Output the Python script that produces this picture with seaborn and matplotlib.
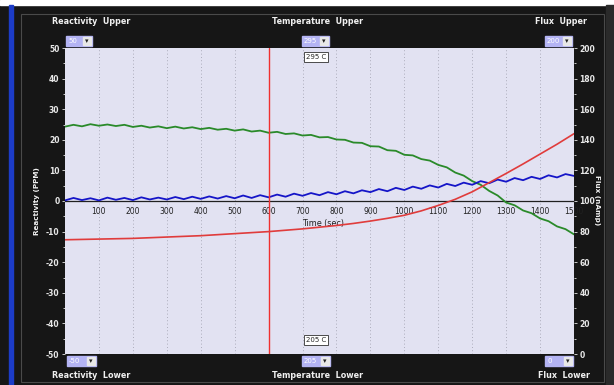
"""
Reactor panel chart: reactivity, flux and temperature traces vs time.
"""

import numpy as np
import pandas as pd
import seaborn as sns
import matplotlib.pyplot as plt
from matplotlib.patches import Rectangle

# data
t_fine = list(range(0, 1501, 25))
reactivity = [24.3, 24.9, 24.4, 25.1, 24.6, 25.0, 24.5, 24.9, 24.2, 24.6,
              24.0, 24.4, 23.8, 24.3, 23.7, 24.1, 23.5, 23.9, 23.3, 23.6,
              23.0, 23.4, 22.7, 23.0, 22.3, 22.6, 21.9, 22.1, 21.4, 21.6,
              20.8, 20.9, 20.1, 20.0, 19.1, 19.0, 17.9, 17.8, 16.6, 16.4,
              15.1, 14.9, 13.7, 13.2, 11.8, 11.0, 9.3, 8.3, 6.5, 5.3,
              3.3, 1.8, -0.5, -1.4, -3.1, -4.0, -5.7, -6.6, -8.3, -9.2, -10.9]
reactivity2 = [0.2, 1.0, 0.3, 0.9, 0.2, 1.1, 0.4, 1.0, 0.3, 1.2,
               0.5, 1.1, 0.5, 1.3, 0.6, 1.4, 0.7, 1.5, 0.8, 1.6,
               0.9, 1.8, 1.0, 1.9, 1.2, 2.1, 1.4, 2.4, 1.7, 2.6,
               1.9, 2.9, 2.2, 3.2, 2.5, 3.5, 2.9, 3.9, 3.2, 4.3,
               3.6, 4.7, 4.0, 5.1, 4.4, 5.6, 4.9, 6.0, 5.3, 6.5,
               5.8, 7.0, 6.3, 7.5, 6.8, 7.9, 7.2, 8.4, 7.7, 8.8, 8.2]
t_coarse = list(range(0, 1501, 50))
temperature = [238.6, 238.7, 238.8, 238.9, 239.0, 239.2, 239.4, 239.6,
               239.8, 240.1, 240.4, 240.7, 241.0, 241.4, 241.8, 242.3,
               242.8, 243.4, 244.1, 244.9, 245.8, 247.1, 248.7, 250.5,
               252.7, 255.4, 258.1, 260.9, 263.8, 266.7, 269.8]
cursor_time = 600
time_ticks = list(range(100, 1501, 100))
react_ticks = list(range(-50, 51, 10))
flux_ticks = list(range(0, 201, 20))
temp_upper, temp_lower = 295, 205

W, H = 614, 385
BG = '#161616'

sns.set_style('white')
plt.rcParams['font.family'] = ['DejaVu Sans']
plt.rcParams['axes.unicode_minus'] = False

fig = plt.figure(figsize=(W / 100, H / 100), dpi=100, facecolor=BG)


def fx(x):
    return x / W


def fy(y):
    return 1 - y / H


# frame decorations
fig.patches.append(Rectangle((0, fy(5)), 1, 5 / H, transform=fig.transFigure,
                             color='white', zorder=0))
fig.patches.append(Rectangle((fx(9), 0), 4 / W, fy(5), transform=fig.transFigure,
                             color='#1c3cc8', zorder=0))
fig.patches.append(Rectangle((fx(606), 0), 8 / W, fy(5), transform=fig.transFigure,
                             color='#2a2a2a', zorder=0))
fig.patches.append(Rectangle((fx(21), fy(382)), 583 / W, 368 / H,
                             transform=fig.transFigure, fill=False,
                             edgecolor='#4a4a4a', lw=0.8, zorder=0))


def dropdown(x0, y0, w, txt):
    h = 10
    fig.patches.append(Rectangle((fx(x0), fy(y0 + h)), w / W, h / H,
                                 transform=fig.transFigure, color='#b4b4f4'))
    fig.patches.append(Rectangle((fx(x0 + w - 9), fy(y0 + h - 1)), 8 / W, (h - 2) / H,
                                 transform=fig.transFigure, color='#e8e8e8'))
    fig.text(fx(x0 + 2), fy(y0 + h / 2), txt, color='white', fontsize=5,
             va='center', ha='left')
    fig.text(fx(x0 + w - 5), fy(y0 + h / 2), '\u25be', color='#222222',
             fontsize=5, va='center', ha='center')


lab = dict(color='#f0f0f0', fontsize=5.8, fontweight='bold', va='center')
fig.text(fx(52), fy(21), 'Reactivity  Upper', ha='left', **lab)
fig.text(fx(318), fy(21), 'Temperature  Upper', ha='center', **lab)
fig.text(fx(535), fy(21), 'Flux  Upper', ha='left', **lab)
fig.text(fx(52), fy(375), 'Reactivity  Lower', ha='left', **lab)
fig.text(fx(318), fy(375), 'Temperature  Lower', ha='center', **lab)
fig.text(fx(538), fy(375), 'Flux  Lower', ha='left', **lab)

dropdown(66, 36, 26, str(react_ticks[-1]))
dropdown(302, 36, 27, str(temp_upper))
dropdown(545, 36, 27, str(flux_ticks[-1]))
dropdown(67, 356, 29, str(react_ticks[0]))
dropdown(302, 356, 28, str(temp_lower))
dropdown(545, 356, 28, str(flux_ticks[0]))

# main axes
ax = fig.add_axes([fx(65), fy(354), 509 / W, 306 / H])
ax.set_facecolor('#e2e2f2')
ax.set_xlim(0, 1500)
ax.set_ylim(-50, 50)

for t in time_ticks:
    ax.axvline(t, color='#9a9aa8', lw=0.6, ls=(0, (1, 3)), zorder=1)

df_r = pd.DataFrame({'time': t_fine, 'green': reactivity, 'blue': reactivity2})
sns.lineplot(data=df_r, x='time', y='green', color='#2a8a2a', lw=1.3, ax=ax, zorder=3)
sns.lineplot(data=df_r, x='time', y='blue', color='#1515c8', lw=1.3, ax=ax, zorder=3)
ax.axvline(cursor_time, color='#f03030', lw=1.0, zorder=4)

ax.spines['bottom'].set_position(('data', 0))
ax.spines['bottom'].set_color('#202020')
ax.spines['bottom'].set_linewidth(0.9)
for s in ['top', 'right', 'left']:
    ax.spines[s].set_visible(False)
ax.set_xticks(time_ticks)
ax.tick_params(axis='x', direction='inout', length=3, width=0.6, colors='#202020',
               labelsize=5.5, pad=3)
ax.set_xlabel('')
ax.text(760, -5.8, 'Time (sec)', fontsize=5.8, color='#202020', ha='center', va='top')

ax.set_yticks(react_ticks)
ax.set_yticks(list(range(-45, 50, 10)), minor=True)
ax.tick_params(axis='y', which='both', direction='out', colors='#e8e8e8',
               labelsize=5.5, length=2.5, width=0.6, pad=1.5)
ax.tick_params(axis='y', which='minor', length=1.5)
for lbl in ax.get_yticklabels():
    lbl.set_fontweight('bold')
ax.set_ylabel('Reactivity (PPM)', color='#f0f0f0', fontsize=5.2,
              fontweight='bold', labelpad=4)

# flux axis (right)
axf = ax.twinx()
axf.set_ylim(0, 200)
axf.set_yticks(flux_ticks)
axf.set_yticks(list(range(10, 200, 20)), minor=True)
axf.tick_params(axis='y', which='both', direction='out', colors='#e8e8e8',
                labelsize=5.5, length=2.5, width=0.6, pad=1.5)
axf.tick_params(axis='y', which='minor', length=1.5)
for lbl in axf.get_yticklabels():
    lbl.set_fontweight('bold')
for s in ['top', 'left', 'bottom', 'right']:
    axf.spines[s].set_visible(False)
fig.text(fx(597), fy(200), 'Flux (nAmp)', color='#f0f0f0', fontsize=5.2,
         fontweight='bold', rotation=270, ha='center', va='center')

# temperature axis (hidden)
axt = ax.twinx()
axt.set_ylim(temp_lower, temp_upper)
axt.axis('off')
df_t = pd.DataFrame({'time': t_coarse, 'temp': temperature})
sns.lineplot(data=df_t, x='time', y='temp', color='#e03c3c', lw=1.2, ax=axt, zorder=3)

box = dict(boxstyle='square,pad=0.25', fc='white', ec='#303030', lw=0.6)
axt.text(0.493, 0.97, f'{temp_upper} C', transform=ax.transAxes, fontsize=5,
         ha='center', va='center', bbox=box)
axt.text(0.493, 0.046, f'{temp_lower} C', transform=ax.transAxes, fontsize=5,
         ha='center', va='center', bbox=box)

fig.savefig('out.png', dpi=100, facecolor=BG)
